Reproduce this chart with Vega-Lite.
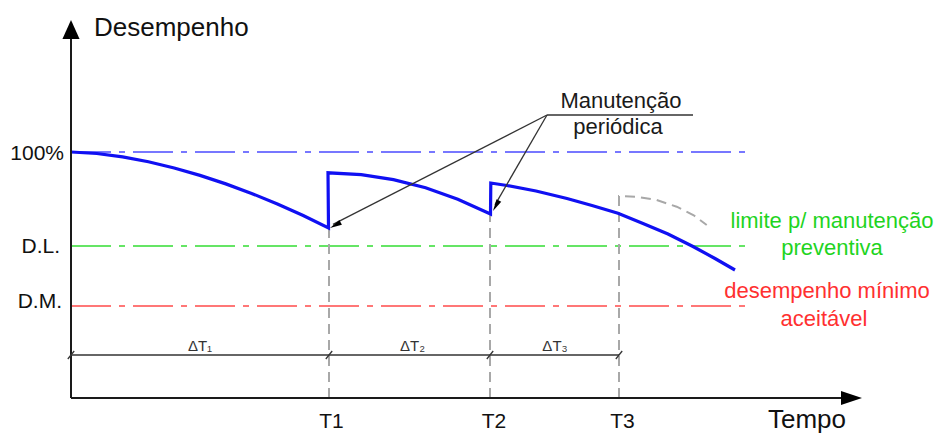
{
  "$schema": "https://vega.github.io/schema/vega-lite/v6.json",
  "width": 941,
  "height": 434,
  "autosize": {"type": "none"},
  "padding": 0,
  "background": "white",
  "config": {"view": {"stroke": null}, "font": "Liberation Sans", "text": {"font": "Liberation Sans"}},
  "datasets": {
    "refs": [
      {"level": "100%", "t": 0, "v": 100}, {"level": "100%", "t": 674, "v": 100},
      {"level": "D.L.", "t": 0, "v": 61.79}, {"level": "D.L.", "t": 674, "v": 61.79},
      {"level": "D.M.", "t": 0, "v": 37.4}, {"level": "D.M.", "t": 674, "v": 37.4}
    ],
    "guides": [
      {"g": "T1", "i": 0, "t": 258, "v": 0}, {"g": "T1", "i": 1, "t": 258, "v": 69.11},
      {"g": "T2", "i": 0, "t": 419, "v": 0}, {"g": "T2", "i": 1, "t": 419, "v": 74.8},
      {"g": "T3", "i": 0, "t": 548, "v": 0}, {"g": "T3", "i": 1, "t": 548, "v": 82.11},
      {"g": "T3", "i": 2, "t": 565.7, "v": 81.83}, {"g": "T3", "i": 3, "t": 585.7, "v": 80.49},
      {"g": "T3", "i": 4, "t": 605.7, "v": 77.76}, {"g": "T3", "i": 5, "t": 622.3, "v": 74.39},
      {"g": "T3", "i": 6, "t": 635.7, "v": 70.33}
    ],
    "curve": [
      {"i": 0, "t": 0, "v": 100}, {"i": 1, "t": 25.8, "v": 99.39}, {"i": 2, "t": 51.6, "v": 98.01},
      {"i": 3, "t": 77.4, "v": 96.02}, {"i": 4, "t": 103.2, "v": 93.5}, {"i": 5, "t": 129, "v": 90.49},
      {"i": 6, "t": 154.8, "v": 87.04}, {"i": 7, "t": 180.6, "v": 83.17}, {"i": 8, "t": 206.4, "v": 78.86},
      {"i": 9, "t": 232.2, "v": 74.19}, {"i": 10, "t": 257.5, "v": 69.11}, {"i": 11, "t": 257, "v": 91.55},
      {"i": 12, "t": 290.2, "v": 90.81}, {"i": 13, "t": 322.4, "v": 88.78}, {"i": 14, "t": 354.6, "v": 85.45},
      {"i": 15, "t": 386.8, "v": 80.81}, {"i": 16, "t": 419.5, "v": 74.8}, {"i": 17, "t": 419.8, "v": 87.4},
      {"i": 18, "t": 436, "v": 86.38}, {"i": 19, "t": 465, "v": 84.15}, {"i": 20, "t": 496, "v": 81.1},
      {"i": 21, "t": 521, "v": 78.25}, {"i": 22, "t": 547, "v": 75.08}, {"i": 23, "t": 572, "v": 70.93},
      {"i": 24, "t": 597, "v": 66.67}, {"i": 25, "t": 622, "v": 61.59}, {"i": 26, "t": 644, "v": 56.71},
      {"i": 27, "t": 664, "v": 52.03}
    ],
    "axes": [
      {"seg": "y", "i": 0, "t": 0, "v": 0}, {"seg": "y", "i": 1, "t": 0, "v": 146.3},
      {"seg": "x", "i": 0, "t": 0, "v": 0}, {"seg": "x", "i": 1, "t": 771, "v": 0}
    ],
    "thin": [
      {"seg": "dt", "i": 0, "t": 0, "v": 17.48}, {"seg": "dt", "i": 1, "t": 548, "v": 17.48},
      {"seg": "under", "i": 0, "t": 476, "v": 115.04}, {"seg": "under", "i": 1, "t": 622, "v": 115.04},
      {"seg": "lead1", "i": 0, "t": 476, "v": 115.04}, {"seg": "lead1", "i": 1, "t": 262, "v": 70.6},
      {"seg": "lead2", "i": 0, "t": 476, "v": 115.04}, {"seg": "lead2", "i": 1, "t": 424, "v": 78.5}
    ],
    "ticks": [
      {"t": 0, "v": 17.48}, {"t": 258, "v": 17.48}, {"t": 419, "v": 17.48}, {"t": 548, "v": 17.48}
    ],
    "labels": [
      {"role": "big", "label": "Desempenho", "t": 23, "v": 147.15},
      {"role": "big", "label": "Tempo", "t": 697, "v": -12.3},
      {"role": "ylab", "label": "100%", "t": -7, "v": 96.75},
      {"role": "ylab", "label": "D.L.", "t": -11, "v": 58.94},
      {"role": "ylab", "label": "D.M.", "t": -9, "v": 36.59},
      {"role": "xlab", "label": "T1", "t": 260.5, "v": -12.2},
      {"role": "xlab", "label": "T2", "t": 423, "v": -12.2},
      {"role": "xlab", "label": "T3", "t": 551.5, "v": -12.2},
      {"role": "note", "label": "Manutenção", "t": 550, "v": 117.89},
      {"role": "note", "label": "periódica", "t": 547, "v": 107.32},
      {"role": "dt", "label": "ΔT₁", "t": 129, "v": 19.2},
      {"role": "dt", "label": "ΔT₂", "t": 341.5, "v": 19.2},
      {"role": "dt", "label": "ΔT₃", "t": 484, "v": 19.2},
      {"role": "green", "label": "limite p/ manutenção", "t": 761, "v": 69.11},
      {"role": "green", "label": "preventiva", "t": 761, "v": 58.13},
      {"role": "red", "label": "desempenho mínimo", "t": 756, "v": 40.65},
      {"role": "red", "label": "aceitável", "t": 753, "v": 29.39}
    ]
  },
  "encoding": {
    "x": {"field": "t", "type": "quantitative", "scale": {"domain": [-71, 870], "nice": false, "zero": false}, "axis": null},
    "y": {"field": "v", "type": "quantitative", "scale": {"domain": [-14.634, 161.789], "nice": false, "zero": false}, "axis": null}
  },
  "layer": [
    {
      "data": {"name": "refs"},
      "mark": {"type": "line", "strokeWidth": 1.6, "strokeDash": [40, 8, 6, 8]},
      "encoding": {
        "detail": {"field": "level"},
        "color": {"field": "level", "type": "nominal", "scale": {"domain": ["100%", "D.L.", "D.M."], "range": ["#4b4bff", "#33dd33", "#ff4b4b"]}, "legend": null}
      }
    },
    {
      "data": {"name": "guides"},
      "mark": {"type": "line", "color": "#a8a8a8", "strokeWidth": 2, "strokeDash": [10, 6]},
      "encoding": {"detail": {"field": "g"}, "order": {"field": "i", "type": "quantitative"}}
    },
    {
      "data": {"name": "curve"},
      "mark": {"type": "line", "color": "#1010f2", "strokeWidth": 3.2, "strokeJoin": "miter"},
      "encoding": {"order": {"field": "i", "type": "quantitative"}}
    },
    {
      "data": {"name": "axes"},
      "mark": {"type": "line", "color": "#1a1a1a", "strokeWidth": 2},
      "encoding": {"detail": {"field": "seg"}, "order": {"field": "i", "type": "quantitative"}}
    },
    {
      "data": {"name": "thin"},
      "mark": {"type": "line", "color": "#333333", "strokeWidth": 1.3},
      "encoding": {"detail": {"field": "seg"}, "order": {"field": "i", "type": "quantitative"}}
    },
    {
      "data": {"name": "ticks"},
      "mark": {"type": "point", "shape": "M-0.8,1L0.8,-1", "size": 64, "filled": false, "stroke": "#333333", "strokeWidth": 1.3, "opacity": 1}
    },
    {
      "data": {"values": [{"t": 0, "v": 153.66}]},
      "mark": {"type": "point", "shape": "M0,0L-0.9,2L0.9,2Z", "size": 361, "filled": true, "color": "#000000", "opacity": 1}
    },
    {
      "data": {"values": [{"t": 791, "v": 0}]},
      "mark": {"type": "point", "shape": "M0,0L-2,-0.67L-2,0.67Z", "size": 441, "filled": true, "color": "#000000", "opacity": 1}
    },
    {
      "data": {"values": [{"t": 259, "v": 69.11}]},
      "mark": {"type": "point", "shape": "M0,0L-0.45,2L0.45,2Z", "size": 144, "angle": 242.5, "filled": true, "color": "#000000", "opacity": 1}
    },
    {
      "data": {"values": [{"t": 422, "v": 76.02}]},
      "mark": {"type": "point", "shape": "M0,0L-0.45,2L0.45,2Z", "size": 144, "angle": 209.4, "filled": true, "color": "#000000", "opacity": 1}
    },
    {
      "data": {"name": "labels"},
      "transform": [{"filter": "datum.role === 'big'"}],
      "mark": {"type": "text", "align": "left", "baseline": "alphabetic", "fontSize": 26, "color": "#111111"},
      "encoding": {"text": {"field": "label"}}
    },
    {
      "data": {"name": "labels"},
      "transform": [{"filter": "datum.role === 'ylab'"}],
      "mark": {"type": "text", "align": "right", "baseline": "alphabetic", "fontSize": 21, "color": "#111111"},
      "encoding": {"text": {"field": "label"}}
    },
    {
      "data": {"name": "labels"},
      "transform": [{"filter": "datum.role === 'xlab'"}],
      "mark": {"type": "text", "align": "center", "baseline": "alphabetic", "fontSize": 21, "color": "#111111"},
      "encoding": {"text": {"field": "label"}}
    },
    {
      "data": {"name": "labels"},
      "transform": [{"filter": "datum.role === 'note'"}],
      "mark": {"type": "text", "align": "center", "baseline": "alphabetic", "fontSize": 22, "color": "#1a1a1a"},
      "encoding": {"text": {"field": "label"}}
    },
    {
      "data": {"name": "labels"},
      "transform": [{"filter": "datum.role === 'dt'"}],
      "mark": {"type": "text", "align": "center", "baseline": "alphabetic", "fontSize": 15, "color": "#333333"},
      "encoding": {"text": {"field": "label"}}
    },
    {
      "data": {"name": "labels"},
      "transform": [{"filter": "datum.role === 'green'"}],
      "mark": {"type": "text", "align": "center", "baseline": "alphabetic", "fontSize": 22, "color": "#1fd41f"},
      "encoding": {"text": {"field": "label"}}
    },
    {
      "data": {"name": "labels"},
      "transform": [{"filter": "datum.role === 'red'"}],
      "mark": {"type": "text", "align": "center", "baseline": "alphabetic", "fontSize": 22, "color": "#ff3030"},
      "encoding": {"text": {"field": "label"}}
    }
  ]
}
